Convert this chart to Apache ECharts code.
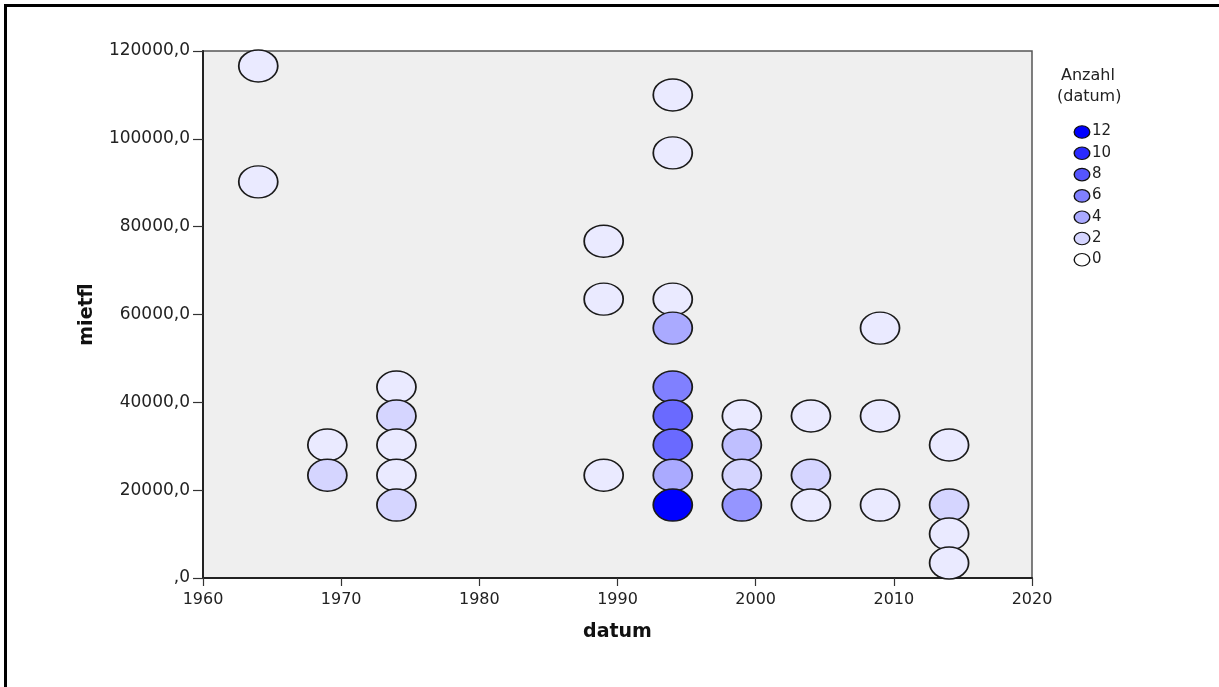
<!DOCTYPE html>
<html>
<head>
<meta charset="utf-8">
<script src="https://cdn.jsdelivr.net/npm/echarts@6/dist/echarts.min.js"></script>
<style>
  html, body { margin: 0; padding: 0; background: #ffffff; }
  #chart { width: 1219px; height: 687px; }
</style>
</head>
<body>
<div id="chart"></div>
<script>
// Year of each bubble (datum)
const datum = [
  1964, 1964,
  1969, 1969,
  1974, 1974, 1974, 1974, 1974,
  1989, 1989, 1989,
  1994, 1994, 1994, 1994, 1994, 1994, 1994, 1994, 1994,
  1999, 1999, 1999, 1999,
  2004, 2004, 2004,
  2009, 2009, 2009,
  2014, 2014, 2014, 2014
];
// Rental area (mietfl) of each bubble
const mietfl = [
  116600, 90200,
  30300, 23400,
  43500, 36900, 30300, 23400, 16600,
  76700, 63500, 23400,
  110000, 96800, 63500, 56900, 43500, 36900, 30300, 23400, 16600,
  36900, 30300, 23400, 16600,
  36900, 23400, 16600,
  56900, 36900, 16600,
  30300, 16600, 10000, 3400
];
// Number of records per bubble (Anzahl datum)
const anzahl = [
  1, 1,
  1, 2,
  1, 2, 1, 1, 2,
  1, 1, 1,
  1, 1, 1, 4, 6, 7, 7, 4, 12,
  1, 3, 2, 5,
  1, 2, 1,
  1, 1, 1,
  1, 2, 1, 1
];
// Legend steps
const legendSteps = [12, 10, 8, 6, 4, 2, 0];

const countMax = 12;
function countColor(n) {
  const t = Math.max(0, Math.min(1, n / countMax));
  const c = Math.round(255 * (1 - t));
  return 'rgb(' + c + ',' + c + ',255)';
}

const points = datum.map((d, i) => [d, mietfl[i], anzahl[i]]);

const font = 'DejaVu Sans, Verdana, sans-serif';

// Legend: title plus a column of small ellipses
const legendX = 1082;
const legendTop = 132;
const legendGap = 21.3;
const legendItems = [];
legendItems.push({
  type: 'text', left: 1061, top: 68,
  style: { text: 'Anzahl', font: '16px ' + font, fill: '#222' }
});
legendItems.push({
  type: 'text', left: 1057, top: 89,
  style: { text: '(datum)', font: '16px ' + font, fill: '#222' }
});
legendSteps.forEach((v, i) => {
  const cy = legendTop + i * legendGap;
  legendItems.push({
    type: 'circle',
    x: legendX, y: cy, scaleY: 0.8,
    shape: { cx: 0, cy: 0, r: 7.8 },
    style: { fill: countColor(v), stroke: '#111', lineWidth: 1.4 }
  });
  legendItems.push({
    type: 'text', left: legendX + 10, top: cy - 8,
    style: { text: String(v), font: '15px ' + font, fill: '#222' }
  });
});

// Outer frame (top and left edges)
const frame = [
  { type: 'rect', shape: { x: 4, y: 4, width: 1215, height: 3 }, style: { fill: '#000' } },
  { type: 'rect', shape: { x: 4, y: 4, width: 3, height: 683 }, style: { fill: '#000' } }
];

const chart = echarts.init(document.getElementById('chart'), null, { renderer: 'canvas' });
chart.setOption({
  animation: false,
  backgroundColor: '#ffffff',
  grid: {
    left: 203, top: 51, right: 187, bottom: 109,
    show: true, backgroundColor: '#efefef',
    borderColor: '#555', borderWidth: 1.5
  },
  xAxis: {
    type: 'value', min: 1960, max: 2020, interval: 10,
    name: 'datum', nameLocation: 'middle', nameGap: 45,
    nameTextStyle: { fontFamily: font, fontWeight: 'bold', fontSize: 19, color: '#111' },
    axisLine: { show: true, onZero: false, lineStyle: { color: '#222', width: 2 } },
    axisTick: { show: true, inside: false, length: 8, lineStyle: { color: '#333', width: 1.2 } },
    axisLabel: {
      margin: 14, fontFamily: font, fontSize: 16, color: '#222',
      formatter: v => String(v)
    },
    splitLine: { show: false }
  },
  yAxis: {
    type: 'value', min: 0, max: 120000, interval: 20000,
    name: 'mietfl', nameLocation: 'middle', nameGap: 106, nameRotate: 90,
    nameTextStyle: { fontFamily: font, fontWeight: 'bold', fontSize: 19, color: '#111' },
    axisLine: { show: true, onZero: false, lineStyle: { color: '#222', width: 2 } },
    axisTick: { show: true, inside: false, length: 10, lineStyle: { color: '#333', width: 1.2 } },
    axisLabel: {
      margin: 13, fontFamily: font, fontSize: 17, color: '#222',
      formatter: v => (v === 0 ? ',0' : v + ',0')
    },
    splitLine: { show: false }
  },
  visualMap: {
    show: false, type: 'continuous', dimension: 2,
    min: 0, max: countMax, seriesIndex: 0,
    inRange: { color: ['#ffffff', '#0000ff'] }
  },
  series: [{
    type: 'scatter',
    data: points,
    symbol: 'circle',
    symbolSize: [39, 32],
    itemStyle: { borderColor: '#1a1a1a', borderWidth: 1.6, opacity: 1 }
  }],
  graphic: frame.concat(legendItems)
});
</script>
</body>
</html>
